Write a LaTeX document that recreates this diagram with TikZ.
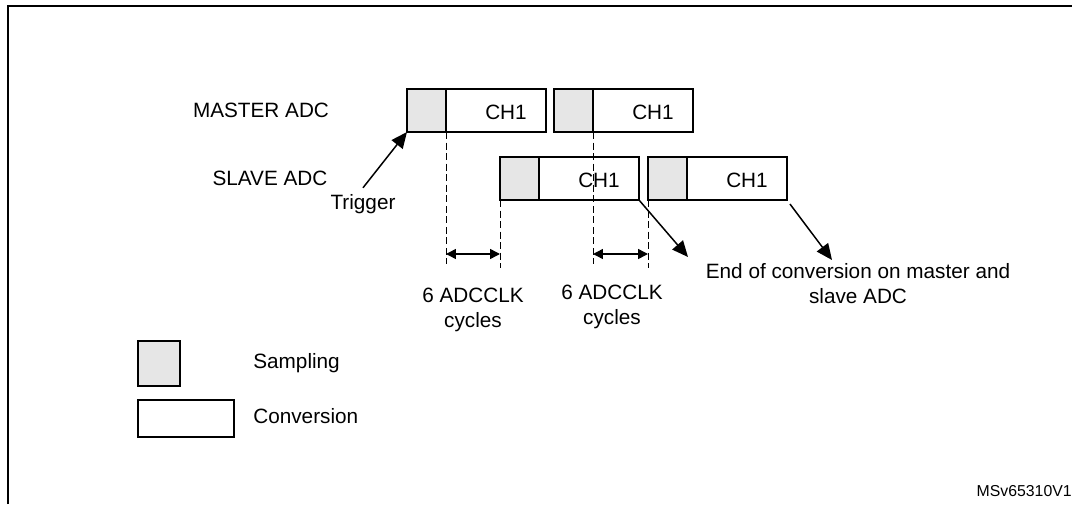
\documentclass[tikz,border=0pt]{standalone}
\usepackage{fontspec}
\setmainfont{Liberation Sans}
\usetikzlibrary{arrows.meta,calc,positioning}
\definecolor{sampgray}{RGB}{230,230,230}
\newcommand{\adcslot}[3]{%
  \node[sampbox,anchor=north west] (#3s) at (#1,#2) {};
  \node[convbox,anchor=north west] (#3c) at (#3s.north east) {};
  \node[anchor=base] (#3t) at ($(#3c.center)+(10,9)$) {CH1};
}

\begin{document}
\begin{tikzpicture}[x=.02cm,y=-.02cm,font=\fontsize{11.8}{14.2}\selectfont,
    box/.style={draw,line width=.85pt,inner sep=0pt,outer sep=0pt},
    sampbox/.style={box,fill=sampgray,minimum width=.78cm,minimum height=.86cm},
    convbox/.style={box,fill=white,minimum width=2cm,minimum height=.86cm},
    dashline/.style={line width=.55pt,dash pattern=on 4pt off 2pt},
    tip/.style={line width=.85pt,-{Triangle[length=.32cm,width=.28cm]}},
    dimline/.style={line width=.85pt,{Triangle[length=.2cm,width=.2cm]}-{Triangle[length=.2cm,width=.2cm]}}]
    \useasboundingbox (0,0) rectangle (1082,504);
    \draw[line width=1.1pt] (8,504) -- (8,6) -- (1072,6);
    \node[anchor=base] (master) at (261,117) {MASTER ADC};
    \node[anchor=base] (slave) at (270,185) {SLAVE ADC};
    \adcslot{407}{89}{m1}
    \adcslot{554}{89}{m2}
    \adcslot{500}{157}{s1}
    \adcslot{648}{157}{s2}
    \coordinate (mend) at (0,264);
    \coordinate (send) at (0,268);
    \coordinate (ruler) at (0,254);
    \draw[dashline] (m1s.south east) -- (m1s.south east |- mend);
    \draw[dashline] (m2s.south east) -- (m2s.south east |- mend);
    \draw[dashline] (s1s.south west) -- (s1s.south west |- send);
    \draw[dashline] (s2s.south west) -- (s2s.south west |- send);
    \draw[dimline] (m1s.south east |- ruler) -- (s1s.south west |- ruler);
    \draw[dimline] (m2s.south east |- ruler) -- (s2s.south west |- ruler);
    \node[anchor=base] (trig) at (363,209) {Trigger};
    \draw[tip] (trig.north) -- (m1s.south west);
    \node[align=center] (clk1) at (473,310) {6 ADCCLK\\cycles};
    \node[align=center] (clk2) at (612,307) {6 ADCCLK\\cycles};
    \node[align=center] (eoc) at (858,284) {End of conversion on master and\\slave ADC};
    \coordinate (e1) at (688,257);
    \coordinate (e2) at (832,260);
    \draw[tip] (s1c.south east) -- (e1);
    \draw[tip] ([shift={(3,4)}]s2c.south east) -- (e2);
    % legend
    \node[sampbox,minimum width=.84cm,minimum height=.9cm,anchor=north west] (lgs) at (138,341) {};
    \node[box,fill=white,minimum width=1.92cm,minimum height=.74cm,anchor=north west] (lgc) at (138,400) {};
    \node[anchor=base west,inner sep=0pt] (lgst) at (253,368) {Sampling};
    \node[anchor=base west,inner sep=0pt] (lgct) at (253,423) {Conversion};
    \node[anchor=base east,inner sep=0pt,font=\fontsize{9}{11}\selectfont] (ref) at (1072,496) {MSv65310V1};
\end{tikzpicture}
\end{document}
